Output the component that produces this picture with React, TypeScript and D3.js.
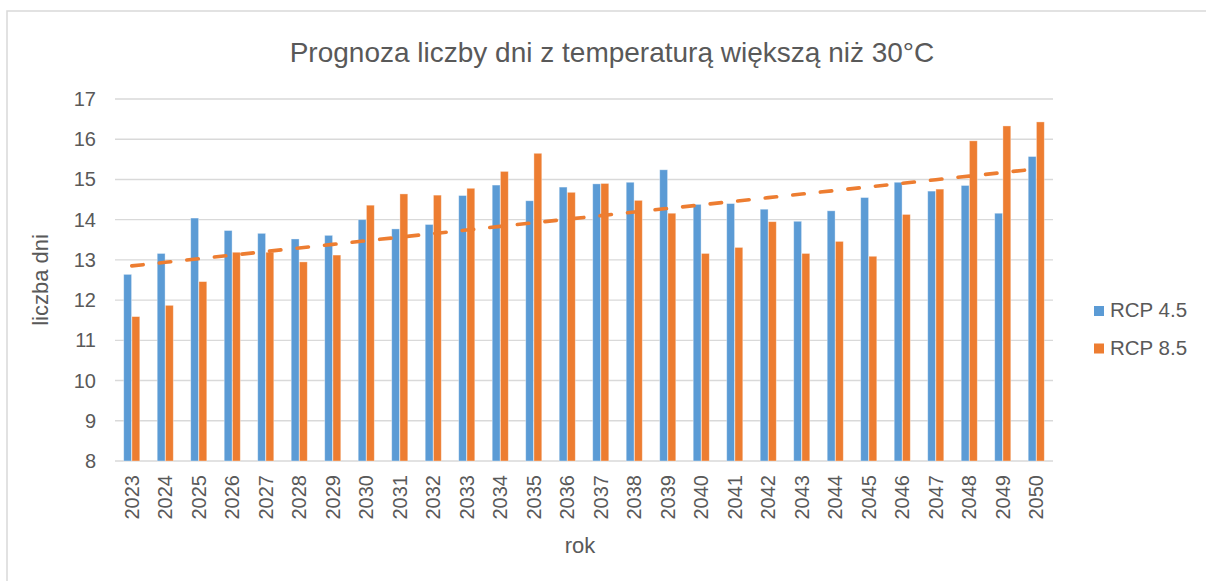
import React from "react";
import * as d3 from "d3";

const years: string[] = ["2023","2024","2025","2026","2027","2028","2029","2030","2031","2032","2033","2034","2035","2036","2037","2038","2039","2040","2041","2042","2043","2044","2045","2046","2047","2048","2049","2050"];
const rcp45: number[] = [12.64,13.16,14.04,13.73,13.66,13.52,13.61,14.0,13.77,13.88,14.6,14.86,14.47,14.81,14.89,14.93,15.24,14.38,14.4,14.26,13.96,14.22,14.55,14.93,14.71,14.85,14.16,15.57];
const rcp85: number[] = [11.59,11.87,12.46,13.19,13.19,12.95,13.12,14.36,14.64,14.61,14.78,15.2,15.65,14.68,14.9,14.48,14.16,13.16,13.31,13.95,13.16,13.46,13.09,14.13,14.76,15.96,16.33,16.43];
const seriesNames: string[] = ["RCP 4.5", "RCP 8.5"];
const seriesColors: string[] = ["#5B9BD5", "#ED7D31"];
const yTicks: number[] = [8, 9, 10, 11, 12, 13, 14, 15, 16, 17];
const title = "Prognoza liczby dni z temperaturą większą niż 30°C";
const yTitle = "liczba dni";
const xTitle = "rok";

const W = 1206;
const H = 581;
const plot = { left: 115, right: 1053, top: 99, bottom: 461 };
const FONT = "'Liberation Sans', Arial, sans-serif";
const TXT = "#595959";
const GRID = "#d9d9d9";

export default function App() {
  const x0 = d3.scaleBand<string>().domain(years).range([plot.left, plot.right]).paddingInner(0.52).paddingOuter(0.26);
  const x1 = d3.scaleBand<string>().domain(seriesNames).range([0, x0.bandwidth()]).paddingInner(0.04);
  const y = d3.scaleLinear().domain([8, 17]).range([plot.bottom, plot.top]);
  const data = [rcp45, rcp85];

  // linear trend of RCP 8.5
  const n = rcp85.length;
  const idx = d3.range(n);
  const mx = d3.mean(idx)!;
  const my = d3.mean(rcp85)!;
  const slope = d3.sum(idx, (i) => (i - mx) * (rcp85[i] - my)) / d3.sum(idx, (i) => (i - mx) * (i - mx));
  const intercept = my - slope * mx;
  const cx = (i: number) => x0(years[i])! + x0.bandwidth() / 2;
  const trend = d3.line<number>().x((i) => cx(i)).y((i) => y(intercept + slope * i));

  return (
    <svg width={W} height={H} style={{ position: "absolute", left: 0, top: 0, display: "block" }} fontFamily={FONT}>
      <rect x={0} y={0} width={W} height={H} fill="#fff" />
      <rect x={7} y={11} width={1220} height={620} fill="#fff" stroke={GRID} strokeWidth={1.5} />
      <text x={612} y={62} textAnchor="middle" fontSize={28} fill={TXT}>{title}</text>
      {yTicks.map((t) => (
        <g key={t}>
          <line x1={plot.left} x2={plot.right} y1={y(t)} y2={y(t)} stroke={GRID} strokeWidth={1.4} />
          <text x={96} y={y(t)} dy="0.35em" textAnchor="end" fontSize={20} fill={TXT}>{t}</text>
        </g>
      ))}
      {years.map((yr, i) => (
        <g key={yr}>
          {data.map((arr, s) => (
            <rect
              key={s}
              x={x0(yr)! + x1(seriesNames[s])!}
              y={y(arr[i])}
              width={x1.bandwidth()}
              height={y(8) - y(arr[i])}
              fill={seriesColors[s]}
              stroke="#ffffff"
              strokeOpacity={0.45}
              strokeWidth={0.8}
            />
          ))}
          <text
            transform={`translate(${cx(i) + 7},${475}) rotate(-90)`}
            textAnchor="end"
            fontSize={20}
            fill={TXT}
          >{yr}</text>
        </g>
      ))}
      <path d={trend(idx)!} fill="none" stroke="#ED7D31" strokeWidth={3.6} strokeDasharray="11.5 16.2" strokeLinecap="round" />
      <text transform={`translate(48,${(plot.top + plot.bottom) / 2}) rotate(-90)`} textAnchor="middle" fontSize={22} fill={TXT}>{yTitle}</text>
      <text x={(plot.left + plot.right) / 2 - 4} y={553} textAnchor="middle" fontSize={22} fill={TXT}>{xTitle}</text>
      {seriesNames.map((s, k) => (
        <g key={s}>
          <rect x={1094} y={306 + k * 37.5} width={10} height={10} fill={seriesColors[k]} />
          <text x={1110} y={317 + k * 37.5} fontSize={20.5} fill={TXT}>{s}</text>
        </g>
      ))}
    </svg>
  );
}
